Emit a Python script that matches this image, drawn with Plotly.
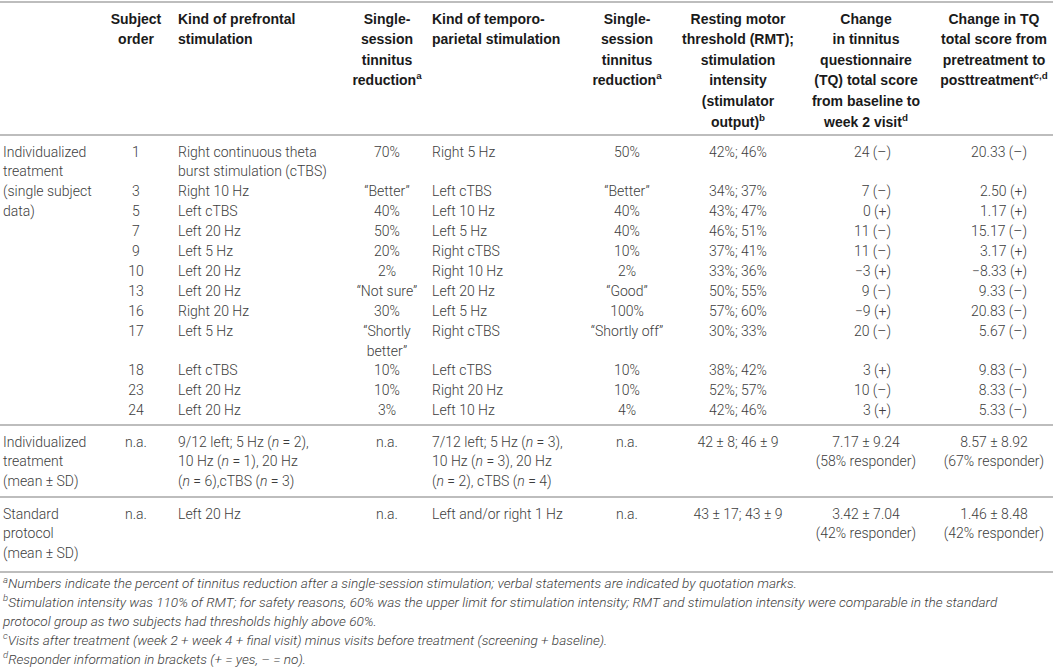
import plotly.graph_objects as go

# ---- table content ---------------------------------------------------------
header_titles = [
    "",
    "Subject<br>order",
    "Kind of prefrontal<br>stimulation",
    "Single-<br>session<br>tinnitus<br>reduction<sup>a</sup>",
    "Kind of temporo-<br>parietal stimulation",
    "Single-<br>session<br>tinnitus<br>reduction<sup>a</sup>",
    "Resting motor<br>threshold (RMT);<br>stimulation<br>intensity<br>(stimulator<br>output)<sup>b</sup>",
    "Change<br>in tinnitus<br>questionnaire<br>(TQ) total score<br>from baseline to<br>week 2 visit<sup>d</sup>",
    "Change in TQ<br>total score from<br>pretreatment to<br>posttreatment<sup>c,d</sup>",
]

group_labels = [
    "Individualized<br>treatment<br>(single subject<br>data)",
    "Individualized<br>treatment<br>(mean ± SD)",
    "Standard<br>protocol<br>(mean ± SD)",
]

subject_order = [1, 3, 5, 7, 9, 10, 13, 16, 17, 18, 23, 24]
prefrontal = ["Right continuous theta<br>burst stimulation (cTBS)", "Right 10 Hz", "Left cTBS",
              "Left 20 Hz", "Left 5 Hz", "Left 20 Hz", "Left 20 Hz", "Right 20 Hz",
              "Left 5 Hz", "Left cTBS", "Left 20 Hz", "Left 20 Hz"]
prefrontal_reduction = ["70%", "“Better”", "40%", "50%", "20%", "2%", "“Not sure”", "30%",
                        "“Shortly<br>better”", "10%", "10%", "3%"]
temporoparietal = ["Right 5 Hz", "Left cTBS", "Left 10 Hz", "Left 5 Hz", "Right cTBS",
                   "Right 10 Hz", "Left 20 Hz", "Left 5 Hz", "Right cTBS", "Left cTBS",
                   "Right 20 Hz", "Left 10 Hz"]
temporoparietal_reduction = ["50%", "“Better”", "40%", "40%", "10%", "2%", "“Good”", "100%",
                             "“Shortly off”", "10%", "10%", "4%"]
rmt_intensity = ["42%; 46%", "34%; 37%", "43%; 47%", "46%; 51%", "37%; 41%", "33%; 36%",
                 "50%; 55%", "57%; 60%", "30%; 33%", "38%; 42%", "52%; 57%", "42%; 46%"]
tq_week2 = [24, 7, 0, 11, 11, -3, 9, -9, 20, 3, 10, 3]
tq_week2_responder = ["–", "–", "+", "–", "–", "+", "–", "+", "–", "+", "–", "+"]
tq_pre_post = [20.33, 2.50, 1.17, 15.17, 3.17, -8.33, 9.33, 20.83, 5.67, 9.83, 8.33, 5.33]
tq_pre_post_responder = ["–", "+", "+", "–", "+", "+", "–", "–", "–", "–", "–", "–"]

summary_order = ["n.a.", "n.a."]
summary_prefrontal = ["9/12 left; 5 Hz (<i>n</i> = 2),<br>10 Hz (<i>n</i> = 1), 20 Hz<br>(<i>n</i> = 6),cTBS (<i>n</i> = 3)",
                      "Left 20 Hz"]
summary_prefrontal_reduction = ["n.a.", "n.a."]
summary_temporoparietal = ["7/12 left; 5 Hz (<i>n</i> = 3),<br>10 Hz (<i>n</i> = 3), 20 Hz<br>(<i>n</i> = 2), cTBS (<i>n</i> = 4)",
                           "Left and/or right 1 Hz"]
summary_temporoparietal_reduction = ["n.a.", "n.a."]
summary_rmt = ["42 ± 8; 46 ± 9", "43 ± 17; 43 ± 9"]
summary_tq_week2 = ["7.17 ± 9.24<br>(58% responder)", "3.42 ± 7.04<br>(42% responder)"]
summary_tq_pre_post = ["8.57 ± 8.92<br>(67% responder)", "1.46 ± 8.48<br>(42% responder)"]

footnotes = [
    "<sup>a</sup>Numbers indicate the percent of tinnitus reduction after a single-session stimulation; verbal statements are indicated by quotation marks.",
    "<sup>b</sup>Stimulation intensity was 110% of RMT; for safety reasons, 60% was the upper limit for stimulation intensity; RMT and stimulation intensity were comparable in the standard",
    "protocol group as two subjects had thresholds highly above 60%.",
    "<sup>c</sup>Visits after treatment (week 2 + week 4 + final visit) minus visits before treatment (screening + baseline).",
    "<sup>d</sup>Responder information in brackets (+ = yes, – = no).",
]

# ---- layout constants ------------------------------------------------------
W, H = 1053, 669
col_x = [3, 136, 178, 387, 432, 627, 738, 866, 994]
col_pos = ["middle right", "middle center", "middle right", "middle center", "middle right",
           "middle center", "middle center", "middle center", "middle center"]
col_right = {7: 891, 8: 1027}
header_top, header_step = 20, 20.6
group_top = [153, 443, 515]
line_step = 19.9
rules = [2, 135, 425, 497, 572]
foot_top, foot_step = 585, 18.8

BODY = dict(family="Roboto", size=14, color="#3d3d3d", weight=300)
HEAD = dict(family="Liberation Sans", size=14, color="#1a1a1a", weight=700)
FOOT = dict(family="Roboto", size=13.6, color="#3d3d3d", weight=300, style="italic")


def minus(s):
    return s.replace("-", "−")


single_rows = []
for i in range(len(subject_order)):
    single_rows.append([
        str(subject_order[i]), prefrontal[i], prefrontal_reduction[i], temporoparietal[i],
        temporoparietal_reduction[i], rmt_intensity[i],
        minus(f"{tq_week2[i]:d}") + f" ({tq_week2_responder[i]})",
        minus(f"{tq_pre_post[i]:.2f}") + f" ({tq_pre_post_responder[i]})",
    ])
summary_rows = [list(r) for r in zip(summary_order, summary_prefrontal, summary_prefrontal_reduction,
                                     summary_temporoparietal, summary_temporoparietal_reduction,
                                     summary_rmt, summary_tq_week2, summary_tq_pre_post)]
groups = [single_rows, [summary_rows[0]], [summary_rows[1]]]

fig = go.Figure()

# header
hx, hy, ht, hp = [], [], [], []
for c, title in enumerate(header_titles):
    if not title:
        continue
    for j, part in enumerate(title.split("<br>")):
        hx.append(col_x[c])
        hy.append(header_top + j * header_step)
        ht.append(part)
        hp.append(col_pos[c])
fig.add_trace(go.Scatter(x=hx, y=hy, text=ht, mode="text", textposition=hp,
                         textfont=HEAD, hoverinfo="skip"))

# body
bx, by, bt, bp = [], [], [], []
for g, rows in enumerate(groups):
    y0 = group_top[g]
    for j, part in enumerate(group_labels[g].split("<br>")):
        bx.append(col_x[0])
        by.append(y0 + j * line_step)
        bt.append(part)
        bp.append(col_pos[0])
    k = 0
    for row in rows:
        n = 1
        for c, cell in enumerate(row, start=1):
            parts = cell.split("<br>")
            n = max(n, len(parts))
            for j, part in enumerate(parts):
                if g == 0 and c in col_right:
                    bx.append(col_right[c])
                    bp.append("middle left")
                else:
                    bx.append(col_x[c])
                    bp.append(col_pos[c])
                by.append(y0 + (k + j) * line_step)
                bt.append(part)
        k += n
fig.add_trace(go.Scatter(x=bx, y=by, text=bt, mode="text", textposition=bp,
                         textfont=BODY, hoverinfo="skip"))

# footnotes
fig.add_trace(go.Scatter(x=[col_x[0]] * len(footnotes),
                         y=[foot_top + j * foot_step for j in range(len(footnotes))],
                         text=footnotes, mode="text", textposition="middle right",
                         textfont=FOOT, hoverinfo="skip"))

for y in rules:
    fig.add_shape(type="line", x0=0, x1=W, y0=y, y1=y, xref="x", yref="y",
                  line=dict(color="#bdbdbd", width=2))

fig.update_layout(
    width=W, height=H,
    margin=dict(l=0, r=0, t=0, b=0),
    paper_bgcolor="white", plot_bgcolor="white",
    showlegend=False, hovermode=False, dragmode=False,
    xaxis=dict(range=[0, W], visible=False, fixedrange=True),
    yaxis=dict(range=[H, 0], visible=False, fixedrange=True),
)

# page body has a default 8px margin; drop it so the figure sits at the corner
fig.write_html("out.html", config={"displayModeBar": False},
               post_script="document.body.style.margin='0';")
